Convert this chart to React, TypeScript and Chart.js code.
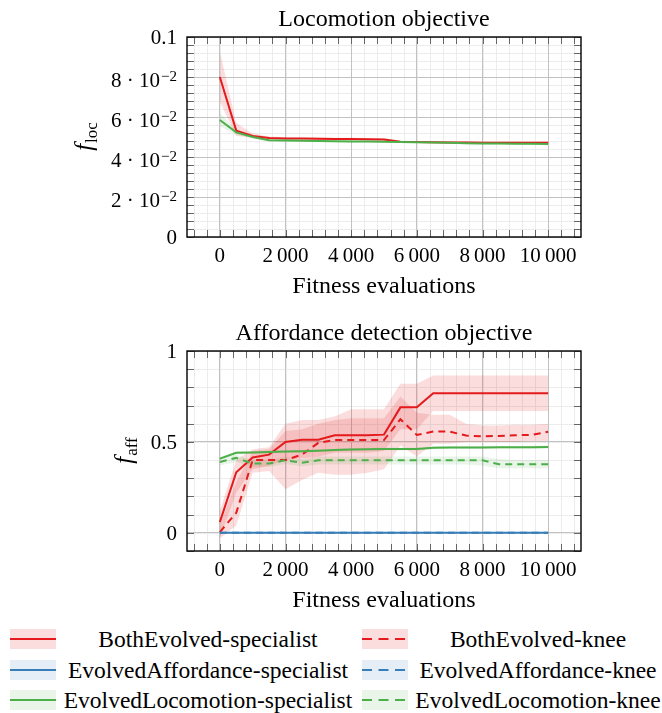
import React, { useEffect, useRef } from 'react';
import { Chart, registerables } from 'chart.js';

Chart.register(...registerables);

const SERIF = '"Liberation Serif", "DejaVu Serif", serif';
const RED = '#e41a1c';
const BLUE = '#377eb8';
const GREEN = '#4daf4a';
const RED_FILL = 'rgba(228,26,28,0.15)';
const BLUE_FILL = 'rgba(55,126,184,0.13)';
const GREEN_FILL = 'rgba(77,175,74,0.13)';

// ---------- shared x axis ----------
const evaluations = [0, 500, 1000, 1500, 2000, 2500, 3000, 3500, 4000, 4500, 5000, 5500, 6000, 6500, 7000, 7500, 8000, 8500, 9000, 9500, 10000];
const xMajorTicks = [0, 2000, 4000, 6000, 8000, 10000];
const xTickLabels = ['0', '2\u2009000', '4\u2009000', '6\u2009000', '8\u2009000', '10\u2009000'];
const xMin = -1000;
const xMax = 11000;
const xMinorStep = 400;

// ---------- Locomotion objective ----------
const locYTicks = [0, 0.02, 0.04, 0.06, 0.08, 0.1];
const locYTickMantissa = ['0', '2 \u00b7 10', '4 \u00b7 10', '6 \u00b7 10', '8 \u00b7 10', '0.1'];
const locYTickExponent = ['', '\u22122', '\u22122', '\u22122', '\u22122', ''];
const locYMinorStep = 0.004;

const locBothSpec = [0.0800, 0.0532, 0.0505, 0.0495, 0.0493, 0.0492, 0.0491, 0.0490, 0.0490, 0.0489, 0.0488, 0.0476, 0.0475, 0.0474, 0.0473, 0.0472, 0.0471, 0.0471, 0.0471, 0.0471, 0.0471];
const locBothSpecLo = [0.0677, 0.0505, 0.0497, 0.0488, 0.0486, 0.0486, 0.0485, 0.0485, 0.0484, 0.0484, 0.0483, 0.0471, 0.0470, 0.0469, 0.0467, 0.0466, 0.0466, 0.0466, 0.0466, 0.0466, 0.0466];
const locBothSpecHi = [0.0927, 0.0570, 0.0518, 0.0502, 0.0499, 0.0498, 0.0497, 0.0496, 0.0496, 0.0495, 0.0494, 0.0481, 0.0480, 0.0479, 0.0478, 0.0477, 0.0476, 0.0476, 0.0476, 0.0476, 0.0476];
const locLocoSpec = [0.0585, 0.0523, 0.0500, 0.0484, 0.0482, 0.0481, 0.0480, 0.0479, 0.0478, 0.0477, 0.0476, 0.0475, 0.0474, 0.0473, 0.0471, 0.0469, 0.0468, 0.0467, 0.0466, 0.0466, 0.0465];
const locLocoSpecLo = [0.0555, 0.0510, 0.0494, 0.0479, 0.0477, 0.0476, 0.0475, 0.0474, 0.0473, 0.0472, 0.0471, 0.0470, 0.0469, 0.0468, 0.0466, 0.0464, 0.0463, 0.0462, 0.0461, 0.0461, 0.0460];
const locLocoSpecHi = [0.0620, 0.0537, 0.0507, 0.0489, 0.0487, 0.0486, 0.0485, 0.0484, 0.0483, 0.0482, 0.0481, 0.0480, 0.0479, 0.0478, 0.0476, 0.0474, 0.0473, 0.0472, 0.0471, 0.0471, 0.0470];

// ---------- Affordance detection objective ----------
const affYTicks = [0, 0.5, 1];
const affYTickMantissa = ['0', '0.5', '1'];
const affYTickExponent = ['', '', ''];
const affYMinorStep = 0.1;

const affBothSpec = [0.059, 0.333, 0.414, 0.430, 0.500, 0.512, 0.512, 0.537, 0.537, 0.537, 0.540, 0.690, 0.690, 0.767, 0.767, 0.767, 0.767, 0.767, 0.767, 0.767, 0.767];
const affBothSpecLo = [-0.03, 0.22, 0.35, 0.37, 0.40, 0.41, 0.42, 0.44, 0.44, 0.44, 0.45, 0.57, 0.57, 0.67, 0.67, 0.67, 0.67, 0.67, 0.67, 0.67, 0.67];
const affBothSpecHi = [0.12, 0.40, 0.46, 0.47, 0.60, 0.62, 0.62, 0.64, 0.68, 0.68, 0.68, 0.82, 0.82, 0.865, 0.865, 0.865, 0.865, 0.865, 0.865, 0.865, 0.865];
const affBothKnee = [0.004, 0.110, 0.400, 0.400, 0.400, 0.430, 0.495, 0.510, 0.510, 0.510, 0.510, 0.625, 0.538, 0.557, 0.557, 0.535, 0.531, 0.533, 0.537, 0.538, 0.556];
const affBothKneeLo = [-0.03, 0.04, 0.33, 0.34, 0.24, 0.29, 0.33, 0.32, 0.32, 0.33, 0.35, 0.48, 0.42, 0.49, 0.49, 0.50, 0.50, 0.50, 0.50, 0.505, 0.505];
const affBothKneeHi = [0.04, 0.28, 0.45, 0.46, 0.56, 0.57, 0.60, 0.62, 0.63, 0.63, 0.63, 0.75, 0.66, 0.65, 0.65, 0.60, 0.59, 0.59, 0.595, 0.595, 0.60];
const affAffSpec = [0, 0, 0, 0, 0, 0, 0, 0, 0, 0, 0, 0, 0, 0, 0, 0, 0, 0, 0, 0, 0];
const affAffKnee = [0, 0, 0, 0, 0, 0, 0, 0, 0, 0, 0, 0, 0, 0, 0, 0, 0, 0, 0, 0, 0];
const affAffLo = [-0.004, -0.004, -0.004, -0.004, -0.004, -0.004, -0.004, -0.004, -0.004, -0.004, -0.004, -0.004, -0.004, -0.004, -0.004, -0.004, -0.004, -0.004, -0.004, -0.004, -0.004];
const affAffHi = [0.004, 0.004, 0.004, 0.004, 0.004, 0.004, 0.004, 0.004, 0.004, 0.004, 0.004, 0.004, 0.004, 0.004, 0.004, 0.004, 0.004, 0.004, 0.004, 0.004, 0.004];
const affLocoSpec = [0.408, 0.440, 0.442, 0.444, 0.447, 0.449, 0.452, 0.455, 0.458, 0.460, 0.461, 0.461, 0.461, 0.468, 0.469, 0.469, 0.469, 0.470, 0.470, 0.471, 0.472];
const affLocoSpecLo = [0.400, 0.432, 0.434, 0.436, 0.439, 0.441, 0.444, 0.447, 0.450, 0.452, 0.453, 0.453, 0.453, 0.460, 0.461, 0.461, 0.461, 0.462, 0.462, 0.463, 0.464];
const affLocoSpecHi = [0.416, 0.448, 0.450, 0.452, 0.455, 0.457, 0.460, 0.463, 0.466, 0.468, 0.469, 0.469, 0.469, 0.476, 0.477, 0.477, 0.477, 0.478, 0.478, 0.479, 0.480];
const affLocoKnee = [0.390, 0.412, 0.381, 0.381, 0.399, 0.385, 0.399, 0.399, 0.399, 0.399, 0.399, 0.399, 0.399, 0.399, 0.399, 0.399, 0.399, 0.377, 0.377, 0.377, 0.377];
const affLocoKneeLo = [0.370, 0.390, 0.360, 0.362, 0.378, 0.366, 0.376, 0.376, 0.376, 0.376, 0.376, 0.376, 0.376, 0.376, 0.376, 0.376, 0.370, 0.355, 0.355, 0.355, 0.355];
const affLocoKneeHi = [0.410, 0.430, 0.400, 0.402, 0.418, 0.405, 0.420, 0.420, 0.420, 0.420, 0.420, 0.420, 0.420, 0.420, 0.420, 0.420, 0.420, 0.405, 0.400, 0.400, 0.400];

// ---------- legend ----------
const legendNames = ['BothEvolved-specialist', 'BothEvolved-knee', 'EvolvedAffordance-specialist', 'EvolvedAffordance-knee', 'EvolvedLocomotion-specialist', 'EvolvedLocomotion-knee'];
const legendColors = [RED, RED, BLUE, BLUE, GREEN, GREEN];
const legendFills = [RED_FILL, RED_FILL, BLUE_FILL, BLUE_FILL, GREEN_FILL, GREEN_FILL];
const legendDashed = [false, true, false, true, false, true];

const toPoints = (vals: number[]) => evaluations.map((x, i) => ({ x, y: vals[i] }));

function lineDs(values: number[], color: string, dashed: boolean, order: number) {
  return {
    data: toPoints(values),
    borderColor: color,
    borderWidth: 2,
    borderDash: dashed ? [7, 5] : [],
    pointRadius: 0,
    fill: false,
    tension: 0,
    order,
  };
}

function bandDs(lo: number[], hi: number[], fillColor: string) {
  return [
    { data: toPoints(lo), borderWidth: 0, borderColor: 'transparent', pointRadius: 0, fill: false, order: 10 },
    { data: toPoints(hi), borderWidth: 0, borderColor: 'transparent', pointRadius: 0, fill: '-1', backgroundColor: fillColor, order: 10 },
  ];
}

const TICK_FONT = 21;
const EXP_FONT = 15;
const LABEL_FONT = 24;

const decorPlugin = {
  id: 'decor',
  beforeDraw(chart: any, _args: any, o: any) {
    const { ctx, chartArea: a, scales } = chart;
    const xs = scales.x;
    const ys = scales.y;
    ctx.save();
    ctx.strokeStyle = '#ececec';
    ctx.lineWidth = 1;
    for (let k = Math.ceil(xMin / xMinorStep); k * xMinorStep <= xMax; k++) {
      const px = Math.round(xs.getPixelForValue(k * xMinorStep)) + 0.5;
      ctx.beginPath(); ctx.moveTo(px, a.top); ctx.lineTo(px, a.bottom); ctx.stroke();
    }
    for (let k = Math.ceil(o.yMin / o.yMinorStep - 1e-9); k * o.yMinorStep <= o.yMax + 1e-9; k++) {
      const py = Math.round(ys.getPixelForValue(k * o.yMinorStep)) + 0.5;
      ctx.beginPath(); ctx.moveTo(a.left, py); ctx.lineTo(a.right, py); ctx.stroke();
    }
    ctx.restore();
  },
  afterDraw(chart: any, _args: any, o: any) {
    const { ctx, chartArea: a, scales } = chart;
    const xs = scales.x;
    const ys = scales.y;
    ctx.save();
    // inward tick marks on all four sides
    ctx.strokeStyle = '#666';
    ctx.lineWidth = 1;
    const TL = 7;
    for (let k = Math.ceil(xMin / xMinorStep); k * xMinorStep <= xMax; k++) {
      const px = Math.round(xs.getPixelForValue(k * xMinorStep)) + 0.5;
      ctx.beginPath();
      ctx.moveTo(px, a.top); ctx.lineTo(px, a.top + TL);
      ctx.moveTo(px, a.bottom); ctx.lineTo(px, a.bottom - TL);
      ctx.stroke();
    }
    for (let k = Math.ceil(o.yMin / o.yMinorStep - 1e-9); k * o.yMinorStep <= o.yMax + 1e-9; k++) {
      const py = Math.round(ys.getPixelForValue(k * o.yMinorStep)) + 0.5;
      ctx.beginPath();
      ctx.moveTo(a.left, py); ctx.lineTo(a.left + TL, py);
      ctx.moveTo(a.right, py); ctx.lineTo(a.right - TL, py);
      ctx.stroke();
    }
    // frame
    ctx.strokeStyle = '#000';
    ctx.lineWidth = 1.4;
    ctx.strokeRect(a.left, a.top, a.right - a.left, a.bottom - a.top);

    // y tick labels
    ctx.fillStyle = '#000';
    ctx.textBaseline = 'alphabetic';
    ctx.textAlign = 'left';
    let maxW = 0;
    o.yTicks.forEach((v: number, i: number) => {
      const py = ys.getPixelForValue(v);
      const mant = o.yMant[i];
      const exp = o.yExp[i];
      ctx.font = `${TICK_FONT}px ${SERIF}`;
      const wm = ctx.measureText(mant).width;
      ctx.font = `${EXP_FONT}px ${SERIF}`;
      const we = exp ? ctx.measureText(exp).width + 1 : 0;
      const right = a.left - 10;
      const left = right - wm - we;
      const base = exp ? py + 10 : py + 7;
      ctx.font = `${TICK_FONT}px ${SERIF}`;
      ctx.fillText(mant, left, base);
      if (exp) {
        ctx.font = `${EXP_FONT}px ${SERIF}`;
        ctx.fillText(exp, left + wm + 1, base - 6);
      }
      maxW = Math.max(maxW, wm + we);
    });

    const cx = (a.left + a.right) / 2;
    // title
    ctx.font = `${LABEL_FONT}px ${SERIF}`;
    ctx.textAlign = 'center';
    ctx.fillText(o.title, cx, a.top - 11);
    // x title
    ctx.fillText(o.xTitle, cx, a.bottom + 56);

    // y title (rotated, italic symbol with upright subscript)
    const bx = a.left - 10 - maxW - 19;
    ctx.translate(bx, (a.top + a.bottom) / 2);
    ctx.rotate(-Math.PI / 2);
    ctx.textAlign = 'left';
    ctx.font = `italic 25px ${SERIF}`;
    const wf = ctx.measureText(o.ySym).width;
    ctx.font = `17px ${SERIF}`;
    const ws = ctx.measureText(o.ySub).width;
    const start = -(wf + ws) / 2;
    ctx.font = `italic 25px ${SERIF}`;
    ctx.fillText(o.ySym, start, 0);
    ctx.font = `17px ${SERIF}`;
    ctx.fillText(o.ySub, start + wf + 1, 5);
    ctx.restore();
  },
};

function makeConfig(p: any) {
  return {
    type: 'line',
    data: { datasets: p.datasets },
    options: {
      responsive: false,
      animation: false,
      events: [],
      layout: { padding: { left: 0, top: p.padTop, right: 81, bottom: 0 } },
      plugins: {
        legend: { display: false },
        tooltip: { enabled: false },
        title: { display: false },
        decor: {
          title: p.title,
          xTitle: 'Fitness evaluations',
          ySym: 'f',
          ySub: p.ySub,
          yTicks: p.yTicks,
          yMant: p.yMant,
          yExp: p.yExp,
          yMin: p.yMin,
          yMax: p.yMax,
          yMinorStep: p.yMinorStep,
        },
      },
      scales: {
        x: {
          type: 'linear',
          min: xMin,
          max: xMax,
          afterBuildTicks: (s: any) => { s.ticks = xMajorTicks.map((v) => ({ value: v })); },
          afterFit: (s: any) => { s.height = p.xAxisHeight; },
          ticks: {
            autoSkip: false,
            maxRotation: 0,
            padding: 7,
            color: '#000',
            font: { family: SERIF, size: TICK_FONT },
            callback: (_v: any, i: number) => xTickLabels[i],
          },
          grid: { color: '#c2c2c2', lineWidth: 1, drawTicks: false },
          border: { display: false },
        },
        y: {
          type: 'linear',
          min: p.yMin,
          max: p.yMax,
          afterBuildTicks: (s: any) => { s.ticks = p.yTicks.map((v: number) => ({ value: v })); },
          afterFit: (s: any) => { s.width = 187; },
          ticks: { display: false },
          grid: { color: '#c2c2c2', lineWidth: 1, drawTicks: false },
          border: { display: false },
        },
      },
    },
    plugins: [decorPlugin],
  };
}

function ChartCanvas({ config, top, height }: { config: any; top: number; height: number }) {
  const ref = useRef<HTMLCanvasElement | null>(null);
  useEffect(() => {
    if (!ref.current) return;
    const chart = new Chart(ref.current, config);
    return () => chart.destroy();
  }, [config]);
  return (
    <canvas
      ref={ref}
      width={662}
      height={height}
      style={{ position: 'absolute', left: 0, top, width: 662, height, display: 'block' }}
    />
  );
}

const locConfig = makeConfig({
  title: 'Locomotion objective',
  ySub: 'loc',
  yTicks: locYTicks,
  yMant: locYTickMantissa,
  yExp: locYTickExponent,
  yMin: 0,
  yMax: 0.1,
  yMinorStep: locYMinorStep,
  padTop: 37,
  xAxisHeight: 73,
  datasets: [
    ...bandDs(locBothSpecLo, locBothSpecHi, RED_FILL),
    ...bandDs(locLocoSpecLo, locLocoSpecHi, GREEN_FILL),
    lineDs(locBothSpec, RED, false, 3),
    lineDs(locLocoSpec, GREEN, false, 1),
  ],
});

const affConfig = makeConfig({
  title: 'Affordance detection objective',
  ySub: 'aff',
  yTicks: affYTicks,
  yMant: affYTickMantissa,
  yExp: affYTickExponent,
  yMin: -0.1,
  yMax: 1,
  yMinorStep: affYMinorStep,
  padTop: 41,
  xAxisHeight: 64,
  datasets: [
    ...bandDs(affBothSpecLo, affBothSpecHi, RED_FILL),
    ...bandDs(affBothKneeLo, affBothKneeHi, RED_FILL),
    ...bandDs(affAffLo, affAffHi, BLUE_FILL),
    ...bandDs(affLocoSpecLo, affLocoSpecHi, GREEN_FILL),
    ...bandDs(affLocoKneeLo, affLocoKneeHi, GREEN_FILL),
    lineDs(affBothSpec, RED, false, 4),
    lineDs(affBothKnee, RED, true, 4),
    lineDs(affAffSpec, BLUE, false, 3),
    lineDs(affAffKnee, BLUE, true, 2),
    lineDs(affLocoSpec, GREEN, false, 1),
    lineDs(affLocoKnee, GREEN, true, 1),
  ],
});

function Legend() {
  return (
    <>
      {legendNames.map((name, i) => {
        const row = Math.floor(i / 2);
        const col = i % 2;
        const cy = 639 + row * 30.5;
        const sx = col ? 362 : 10;
        const tc = col ? 538 : 208;
        return (
          <React.Fragment key={name}>
            <svg
              width={46}
              height={20}
              style={{ position: 'absolute', left: sx, top: cy - 10 }}
            >
              <rect x={0} y={0} width={46} height={20} fill={legendFills[i]} />
              <line
                x1={0}
                y1={10}
                x2={46}
                y2={10}
                stroke={legendColors[i]}
                strokeWidth={2}
                strokeDasharray={legendDashed[i] ? '10 6.5' : undefined}
              />
            </svg>
            <div
              style={{
                position: 'absolute',
                left: tc - 160,
                width: 320,
                top: cy - 15,
                height: 30,
                lineHeight: '30px',
                textAlign: 'center',
                whiteSpace: 'nowrap',
                fontFamily: SERIF,
                fontSize: 23.5,
                color: '#000',
              }}
            >
              {name}
            </div>
          </React.Fragment>
        );
      })}
    </>
  );
}

export default function App() {
  return (
    <div
      style={{
        position: 'absolute',
        left: 0,
        top: 0,
        width: 662,
        height: 713,
        overflow: 'hidden',
        background: '#fff',
      }}
    >
      <ChartCanvas config={locConfig} top={0} height={310} />
      <ChartCanvas config={affConfig} top={310} height={305} />
      <Legend />
    </div>
  );
}
